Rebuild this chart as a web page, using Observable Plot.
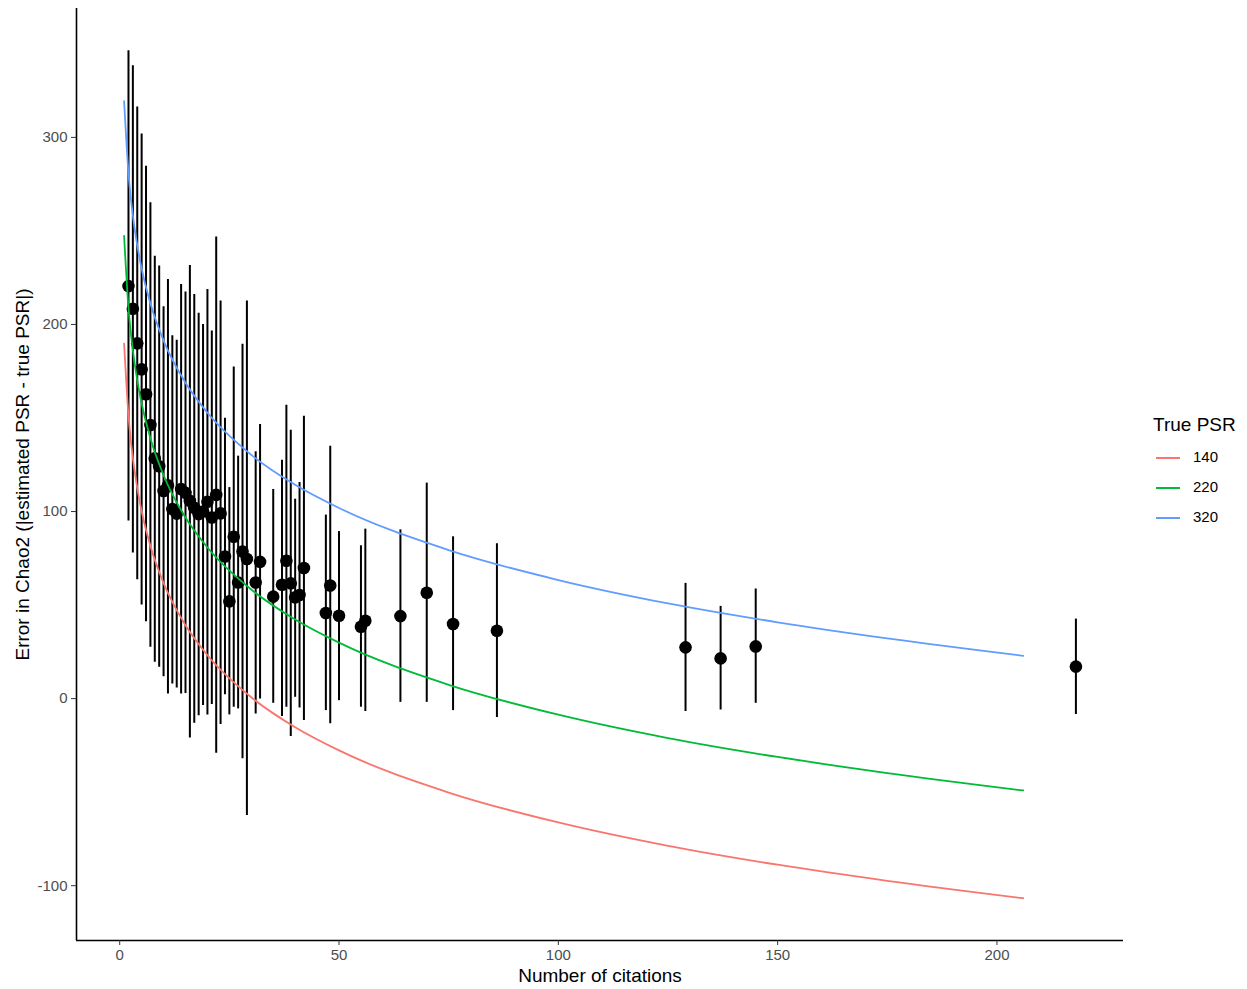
<!DOCTYPE html>
<html>
<head>
<meta charset="utf-8">
<script src="https://cdn.jsdelivr.net/npm/d3@7"></script>
<script src="https://cdn.jsdelivr.net/npm/@observablehq/plot@0.6"></script>
<style>
  body { margin: 0; background: #fff; font-family: "Liberation Sans", Arial, sans-serif; }
  #wrap { position: relative; width: 1247px; height: 989px; }
  #legend { position: absolute; left: 1153px; top: 413px; color: #000; }
  #legend .title { font-size: 19px; line-height: 24px; height: 30px; }
  #legend .item { position: relative; height: 30px; }
  #legend .key { position: absolute; left: 3px; top: 14px; width: 24px; height: 1.6px; }
  #legend .lab { position: absolute; left: 40px; top: 4px; font-size: 15px; line-height: 20px; }
  svg [aria-label="y-axis tick label"], svg [aria-label="x-axis tick label"] { fill: #4d4d4d; }
</style>
</head>
<body>
<div id="wrap"></div>
<script>
// ---- point data (number of citations, mean error, error bar low/high) ----
const citations = [2,3,4,5,6,7,8,9,10,11,12,13,14,15,16,17,18,19,20,21,22,23,24,25,26,27,28,29,31,32,35,37,38,39,40,41,42,47,48,50,55,56,64,70,76,86,129,137,145,218];
const meanError = [220.5,208.4,189.9,176.0,162.7,146.3,128.4,124.2,111,114,101.3,98.9,112,110,105.7,102,98.6,100,105.2,96.8,108.9,99,76,52,86.5,62.1,78.6,74.6,62.1,73.1,54.5,60.9,73.7,61.6,54.1,55.4,69.8,45.8,60.5,44.3,38.4,41.6,44.1,56.6,39.9,36.3,27.4,21.5,27.9,17.1];
const upperError = [346.3,338.3,316.2,301.8,284.6,265.0,236.5,231.2,209.5,224,194,191.5,221.4,217.3,231.5,216,206,200,218.7,196.5,246.8,212.5,149.9,112.8,177.3,129.6,189.4,212.5,132,146.5,111.8,127.4,156.8,143.4,106.6,115.5,150.9,98.1,134.9,89.3,81.7,90.6,90.2,115.2,86.5,82.8,61.6,49.3,58.6,42.5];
const lowerError = [95.0,77.8,63.5,50.0,41.1,27.4,19.4,16.7,11.7,2.5,7.8,5.7,2.5,2.8,-21,-13.2,-9.1,-3.7,-8.7,-3.2,-29.2,-13.9,2.0,-8.7,-4.6,-5.5,-32.2,-62.5,-8.2,-0.2,-2.5,-9.6,-4.6,-20.3,0.7,-5.0,-11.7,-6.4,-13.5,-1.1,-4.6,-6.9,-2.0,-2.0,-6.4,-10.1,-6.9,-6.1,-2.5,-8.5];

// ---- curves for each true PSR ----
const curveX = [1,2,3,4,5,7,10,15,20,30,40,50,75,100,125,150,175,206];
const psr140 = [189.8,151.3,128.7,112.7,100.3,81.6,61.8,39.2,23.2,0.7,-15.3,-27.7,-50.2,-66.2,-78.7,-88.8,-97.4,-106.7];
const psr220 = [247.4,208.9,186.3,170.3,157.9,139.2,119.4,96.8,80.8,58.3,42.3,29.9,7.4,-8.6,-21.1,-31.2,-39.8,-49.1];
const psr320 = [319.4,280.9,258.3,242.3,229.9,211.2,191.4,168.8,152.8,130.3,114.3,101.9,79.4,63.4,50.9,40.8,32.2,22.9];

const seriesNames = ["140","220","320"];
const seriesColors = ["#F8766D","#00BA38","#619CFF"];
const xTicks = [0,50,100,150,200];
const yTicks = [-100,0,100,200,300];
const xDomain = [-9.85, 228.85];
const yDomain = [-129.3, 368.9];

const points = citations.map((c, i) => ({x: c, y: meanError[i], lo: lowerError[i], hi: upperError[i]}));
const curves = [];
[psr140, psr220, psr320].forEach((vals, s) => {
  vals.forEach((v, i) => curves.push({x: curveX[i], y: v, psr: seriesNames[s]}));
});

const chart = Plot.plot({
  width: 1247,
  height: 989,
  marginLeft: 76,
  marginRight: 124,
  marginTop: 8,
  marginBottom: 49,
  style: {fontFamily: '"Liberation Sans", Arial, sans-serif', fontSize: "15px", background: "#fff"},
  x: {domain: xDomain},
  y: {domain: yDomain},
  color: {domain: seriesNames, range: seriesColors},
  marks: [
    Plot.ruleX(points, {x: "x", y1: "lo", y2: "hi", stroke: "#000", strokeWidth: 2}),
    Plot.dot(points, {x: "x", y: "y", r: 6.3, fill: "#000", stroke: "none"}),
    Plot.line(curves, {x: "x", y: "y", z: "psr", stroke: "psr", strokeWidth: 1.8, curve: "monotone-x"}),
    Plot.ruleX([xDomain[0]], {stroke: "#000", strokeWidth: 1.6}),
    Plot.ruleY([yDomain[0]], {stroke: "#000", strokeWidth: 1.6}),
    Plot.axisX({ticks: xTicks, tickSize: 5, tickPadding: 4, fontSize: 15, label: null, stroke: "#333", tickFormat: d => String(d)}),
    Plot.axisY({ticks: yTicks, tickSize: 5, tickPadding: 4, fontSize: 15, label: null, stroke: "#333", tickFormat: d => String(d)}),
    Plot.text(["Number of citations"], {text: d => d, frameAnchor: "bottom", dy: 35, fontSize: 19, fill: "#000", textAnchor: "middle", lineAnchor: "middle"}),
    Plot.text(["Error in Chao2 (|estimated PSR - true PSR|)"], {text: d => d, frameAnchor: "left", dx: -54, rotate: -90, fontSize: 19, fill: "#000", textAnchor: "middle", lineAnchor: "middle"})
  ]
});

const wrap = document.getElementById("wrap");
wrap.appendChild(chart);

const legend = document.createElement("div");
legend.id = "legend";
let html = '<div class="title">True PSR</div>';
seriesNames.forEach((n, i) => {
  html += `<div class="item"><div class="key" style="background:${seriesColors[i]}"></div><div class="lab">${n}</div></div>`;
});
legend.innerHTML = html;
wrap.appendChild(legend);
</script>
</body>
</html>
